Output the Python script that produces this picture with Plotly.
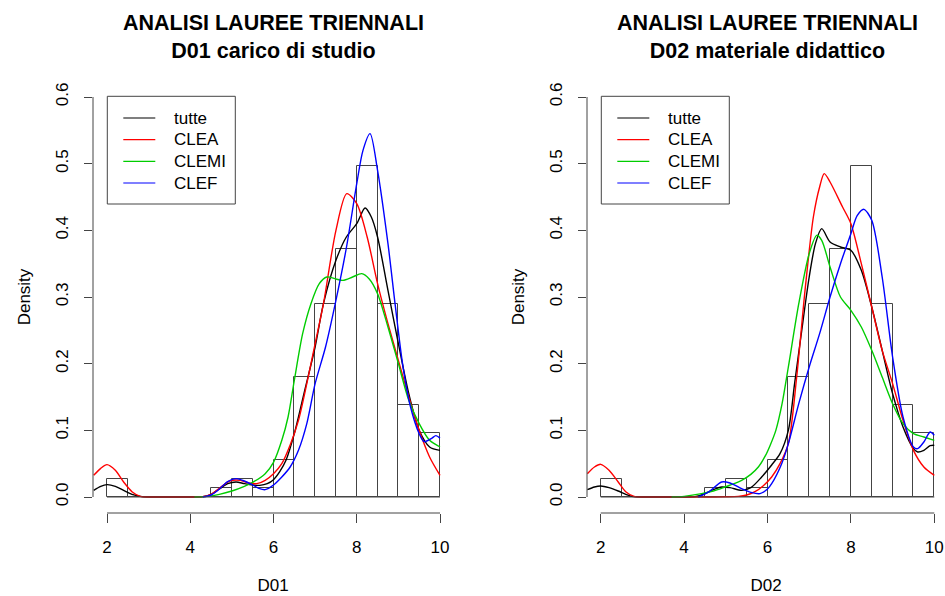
import plotly.graph_objects as go

# ---------------- data ----------------
bin_left = [2.0, 2.5, 3.0, 3.5, 4.0, 4.5, 5.0, 5.5, 6.0, 6.5, 7.0, 7.5, 8.0, 8.5, 9.0, 9.5]
bin_width = 0.5
hist_D01 = [0.0276, 0, 0, 0, 0, 0.0138, 0.0276, 0.0138, 0.0552, 0.1793, 0.2897, 0.3724, 0.4966, 0.2897, 0.1379, 0.0966]
hist_D02 = [0.0276, 0, 0, 0, 0, 0.0138, 0.0276, 0.0138, 0.0552, 0.1793, 0.2897, 0.3724, 0.4966, 0.2897, 0.1379, 0.0966]

series_names = ["tutte", "CLEA", "CLEMI", "CLEF"]
series_colors = ["#000000", "#FF0000", "#00CD00", "#0000FF"]

# D01 density curves
d01_tutte_x = [1.68, 1.85, 2.0, 2.2, 2.4, 2.6, 2.8, 3.0, 3.5, 4.0, 4.3, 4.5, 4.7, 4.9, 5.1, 5.3, 5.5, 5.67, 5.85, 6.0, 6.15, 6.3, 6.5, 6.75, 7.0, 7.2, 7.5, 7.75, 8.0, 8.2, 8.35, 8.5, 8.75, 9.0, 9.25, 9.5, 9.75, 10.0]
d01_tutte_y = [0.010, 0.016, 0.0185, 0.016, 0.010, 0.004, 0.001, 0, 0, 0, 0.0005, 0.004, 0.012, 0.020, 0.0225, 0.020, 0.018, 0.0175, 0.020, 0.026, 0.038, 0.055, 0.095, 0.16, 0.225, 0.29, 0.355, 0.39, 0.41, 0.4335, 0.42, 0.39, 0.31, 0.23, 0.155, 0.10, 0.075, 0.07]
d01_clea_x = [1.68, 1.85, 2.0, 2.2, 2.4, 2.6, 2.8, 3.0, 3.5, 4.0, 4.3, 4.5, 4.7, 4.95, 5.2, 5.4, 5.6, 5.8, 6.0, 6.2, 6.4, 6.6, 6.8, 7.0, 7.2, 7.5, 7.76, 8.0, 8.25, 8.5, 8.75, 9.0, 9.25, 9.5, 9.75, 10.0]
d01_clea_y = [0.0325, 0.043, 0.0485, 0.040, 0.0225, 0.008, 0.001, 0, 0, 0, 0.0005, 0.004, 0.013, 0.024, 0.025, 0.021, 0.020, 0.025, 0.035, 0.05, 0.078, 0.115, 0.17, 0.23, 0.29, 0.40, 0.455, 0.44, 0.39, 0.32, 0.26, 0.205, 0.15, 0.10, 0.06, 0.0325]
d01_clemi_x = [4.1, 4.4, 4.7, 5.0, 5.3, 5.5, 5.8, 6.0, 6.2, 6.35, 6.5, 6.7, 6.9, 7.1, 7.28, 7.5, 7.67, 7.9, 8.12, 8.3, 8.5, 8.75, 9.0, 9.25, 9.5, 9.75, 10.0]
d01_clemi_y = [0, 0.001, 0.004, 0.009, 0.016, 0.022, 0.035, 0.052, 0.085, 0.12, 0.175, 0.245, 0.29, 0.32, 0.33, 0.327, 0.325, 0.33, 0.335, 0.327, 0.305, 0.255, 0.20, 0.145, 0.11, 0.085, 0.075]
d01_clef_x = [4.3, 4.5, 4.7, 4.9, 5.1, 5.3, 5.5, 5.65, 5.8, 6.0, 6.2, 6.4, 6.6, 6.8, 7.0, 7.25, 7.5, 7.75, 8.0, 8.15, 8.32, 8.5, 8.75, 8.92, 9.1, 9.28, 9.5, 9.62, 9.8, 9.9, 10.0]
d01_clef_y = [0, 0.003, 0.012, 0.023, 0.0275, 0.024, 0.018, 0.013, 0.011, 0.018, 0.03, 0.045, 0.07, 0.11, 0.17, 0.225, 0.295, 0.3735, 0.47, 0.52, 0.545, 0.49, 0.38, 0.29, 0.20, 0.138, 0.095, 0.083, 0.088, 0.092, 0.088]

# D02 density curves
d02_tutte_x = [1.68, 1.85, 2.0, 2.2, 2.42, 2.6, 2.75, 3.0, 3.5, 4.0, 4.26, 4.5, 4.7, 4.9, 5.1, 5.38, 5.6, 5.86, 6.1, 6.3, 6.5, 6.65, 6.8, 7.0, 7.15, 7.3, 7.5, 7.75, 8.0, 8.25, 8.5, 8.75, 9.0, 9.25, 9.5, 9.6, 9.75, 9.9, 10.0]
d02_tutte_y = [0.011, 0.015, 0.0165, 0.014, 0.009, 0.004, 0.001, 0, 0, 0, 0.0005, 0.005, 0.011, 0.015, 0.014, 0.010, 0.014, 0.03, 0.048, 0.065, 0.10, 0.17, 0.24, 0.33, 0.38, 0.4025, 0.3825, 0.375, 0.37, 0.34, 0.285, 0.22, 0.155, 0.105, 0.0725, 0.0675, 0.07, 0.077, 0.0775]
d02_clea_x = [1.68, 1.85, 2.0, 2.2, 2.42, 2.6, 2.8, 3.0, 3.5, 4.0, 4.5, 5.0, 5.3, 5.5, 5.7, 5.9, 6.1, 6.3, 6.5, 6.7, 6.9, 7.1, 7.25, 7.36, 7.5, 7.8, 8.0, 8.25, 8.5, 8.75, 9.0, 9.25, 9.5, 9.75, 10.0]
d02_clea_y = [0.035, 0.045, 0.049, 0.040, 0.0225, 0.008, 0.001, 0, 0, 0, 0, 0.0003, 0.001, 0.003, 0.008, 0.017, 0.03, 0.05, 0.08, 0.18, 0.31, 0.42, 0.465, 0.485, 0.4725, 0.435, 0.41, 0.35, 0.285, 0.22, 0.17, 0.115, 0.07, 0.045, 0.0325]
d02_clemi_x = [3.7, 4.0, 4.42, 4.7, 4.98, 5.2, 5.38, 5.6, 5.78, 5.95, 6.06, 6.2, 6.35, 6.5, 6.75, 7.0, 7.18, 7.3, 7.5, 7.75, 8.0, 8.25, 8.5, 8.75, 9.0, 9.25, 9.5, 9.75, 10.0]
d02_clemi_y = [0, 0.001, 0.005, 0.009, 0.015, 0.02, 0.025, 0.034, 0.045, 0.062, 0.077, 0.1, 0.14, 0.195, 0.29, 0.365, 0.3925, 0.385, 0.345, 0.30, 0.28, 0.255, 0.22, 0.18, 0.14, 0.11, 0.095, 0.09, 0.085]
d02_clef_x = [4.34, 4.6, 4.9, 5.1, 5.38, 5.6, 5.82, 6.0, 6.1, 6.34, 6.5, 6.75, 7.0, 7.25, 7.5, 7.75, 8.0, 8.15, 8.31, 8.5, 8.75, 9.0, 9.25, 9.5, 9.6, 9.75, 9.9, 10.0]
d02_clef_y = [0, 0.008, 0.0225, 0.021, 0.0125, 0.007, 0.005, 0.012, 0.02, 0.05, 0.08, 0.14, 0.195, 0.245, 0.30, 0.35, 0.395, 0.422, 0.4315, 0.415, 0.33, 0.21, 0.12, 0.075, 0.0725, 0.0825, 0.0975, 0.0925]

x_ticks = [2, 4, 6, 8, 10]
y_ticks = [0.0, 0.1, 0.2, 0.3, 0.4, 0.5, 0.6]
y_ticktext = ["0.0", "0.1", "0.2", "0.3", "0.4", "0.5", "0.6"]
title_line1 = "ANALISI LAUREE TRIENNALI"
panel_subtitles = ["D01 carico di studio", "D02 materiale didattico"]
panel_xlabels = ["D01", "D02"]

# ---------------- layout geometry ----------------
W, H = 945, 596
ML, MR, MT, MB = 93, 0, 81, 83
PW, PH = W - ML - MR, H - MT - MB
FONT = "Liberation Sans, Arial, sans-serif"
AXC = "#444444"


def pxx(px):
    return (px - ML) / PW


def pxy(py):
    return (H - MB - py) / PH


panels = [
    dict(hist=hist_D01,
         curves=[(d01_tutte_x, d01_tutte_y), (d01_clea_x, d01_clea_y), (d01_clemi_x, d01_clemi_y), (d01_clef_x, d01_clef_y)],
         domain=[0.0, pxx(453.3)], xrange=[1.6637, 10.3195], left_px=93, title_px=273.5),
    dict(hist=hist_D02,
         curves=[(d02_tutte_x, d02_tutte_y), (d02_clea_x, d02_clea_y), (d02_clemi_x, d02_clemi_y), (d02_clef_x, d02_clef_y)],
         domain=[pxx(587), 1.0], xrange=[1.6715, 10.2566], left_px=587, title_px=767.5),
]

fig = go.Figure()
shapes = []
annotations = []

for i, p in enumerate(panels):
    xa = "x" if i == 0 else "x2"
    ya = "y" if i == 0 else "y2"
    centers = [b + bin_width / 2 for b in bin_left]
    fig.add_trace(go.Bar(x=centers, y=p["hist"], width=bin_width, xaxis=xa, yaxis=ya,
                         marker=dict(color="rgba(255,255,255,0)", line=dict(color="#444444", width=1)),
                         showlegend=False, hoverinfo="skip"))
    for (cx, cy), name, col in zip(p["curves"], series_names, series_colors):
        fig.add_trace(go.Scatter(x=cx, y=cy, mode="lines", name=name, xaxis=xa, yaxis=ya,
                                 line=dict(color=col, width=1.4, shape="spline", smoothing=0.8),
                                 showlegend=False))
    # histogram baseline (zero-height bins)
    shapes.append(dict(type="line", xref=xa, yref=ya, x0=bin_left[0], x1=bin_left[-1] + bin_width,
                       y0=0, y1=0, line=dict(color="#444444", width=1)))
    # R-style axis lines
    shapes.append(dict(type="line", xref=xa, yref=ya + " domain", x0=x_ticks[0], x1=x_ticks[-1],
                       y0=0, y1=0, line=dict(color=AXC, width=1)))
    shapes.append(dict(type="line", xref=xa + " domain", yref=ya, x0=0, x1=0,
                       y0=y_ticks[0], y1=y_ticks[-1], line=dict(color=AXC, width=1)))
    # titles
    annotations.append(dict(xref="paper", yref="paper", x=pxx(p["title_px"]), y=pxy(9),
                            xanchor="center", yanchor="top", showarrow=False,
                            text=title_line1 + "<br>" + panel_subtitles[i],
                            font=dict(family=FONT, size=21.5, color="black", weight="bold")))
    # legend box
    lx = p["left_px"] + 14.3
    shapes.append(dict(type="rect", xref="paper", yref="paper", x0=pxx(lx), x1=pxx(lx + 128),
                       y0=pxy(96.3), y1=pxy(204), line=dict(color=AXC, width=1), fillcolor="white"))
    rows = [118, 139.7, 161.3, 183]
    for r, name, col in zip(rows, series_names, series_colors):
        shapes.append(dict(type="line", xref="paper", yref="paper", x0=pxx(lx + 16), x1=pxx(lx + 48),
                           y0=pxy(r), y1=pxy(r), line=dict(color=col, width=1.2)))
        annotations.append(dict(xref="paper", yref="paper", x=pxx(lx + 65), y=pxy(r),
                                xanchor="left", yanchor="middle", showarrow=False, text=name,
                                font=dict(family=FONT, size=17, color="black")))

axis_common = dict(showgrid=False, zeroline=False, showline=False, ticks="outside",
                   tickcolor=AXC, tickwidth=1, tickfont=dict(family=FONT, size=17, color="black"))

layout = dict(width=W, height=H, margin=dict(l=ML, r=MR, t=MT, b=MB),
              plot_bgcolor="white", paper_bgcolor="white", showlegend=False,
              bargap=0, shapes=shapes, annotations=annotations)
for i, p in enumerate(panels):
    xk = "xaxis" if i == 0 else "xaxis2"
    yk = "yaxis" if i == 0 else "yaxis2"
    layout[xk] = dict(axis_common, domain=p["domain"], range=p["xrange"], tickvals=x_ticks,
                      ticklen=9, ticklabelstandoff=10, anchor="y" if i == 0 else "y2",
                      title=dict(text=panel_xlabels[i], font=dict(family=FONT, size=17, color="black"), standoff=22))
    layout[yk] = dict(axis_common, domain=[0, 1], range=[-0.024, 0.624], tickvals=y_ticks,
                      ticktext=y_ticktext, tickangle=-90, ticklen=8, ticklabelstandoff=9,
                      anchor="x" if i == 0 else "x2",
                      title=dict(text="Density", font=dict(family=FONT, size=17, color="black"), standoff=18))

fig.update_layout(**layout)
fig.write_html("out.html", config={"displayModeBar": False},
               post_script="document.body.style.margin='0px';")
